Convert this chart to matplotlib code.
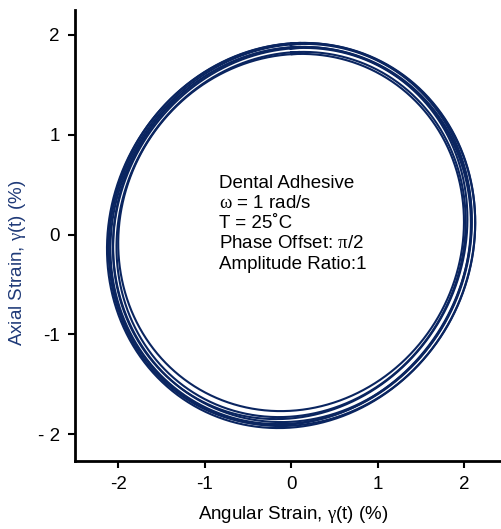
import numpy as np
import matplotlib
matplotlib.use("Agg")
import matplotlib.pyplot as plt

plt.rcParams['font.family'] = ['Liberation Sans', 'DejaVu Sans']
plt.rcParams['mathtext.fontset'] = 'custom'
plt.rcParams['mathtext.rm'] = 'Liberation Serif'
plt.rcParams['mathtext.it'] = 'Liberation Serif'

# per-cycle amplitudes / phase deviation
cycle_amp_x = [2.13, 2.12, 2.10, 2.09, 2.07, 2.05, 2.02, 2.00]
cycle_amp_y = [1.93, 1.92, 1.91, 1.89, 1.88, 1.86, 1.83, 1.79]
cycle_phase_dev = [0.07, 0.06, 0.08, 0.07, 0.06, 0.08, 0.07, 0.06]
cycle_off_x = [0.00, 0.01, -0.01, 0.00, 0.01, -0.01, 0.00, 0.00]
cycle_off_y = [-0.01, 0.00, 0.00, -0.01, 0.00, 0.01, 0.00, 0.02]

x_ticks = [-2, -1, 0, 1, 2]
x_ticklabels = ['-2', '-1', '0', '1', '2']
y_ticks = [-2, -1, 0, 1, 2]
y_ticklabels = ['- 2', '-1', '0', '1', '2']

annotation = ("Dental Adhesive\n$\\omega$ = 1 rad/s\nT = 25˚C\n"
              "Phase Offset: $\\pi$/2\nAmplitude Ratio:1")

line_color = '#0a2560'

fig = plt.figure(figsize=(5.02, 5.29), dpi=100)
ax = fig.add_axes([75/502, 68/529, 427/502, 451/529])

t = np.linspace(0, 2*np.pi + 0.05, 520)
for ax_, ay_, dp, ox, oy in zip(cycle_amp_x, cycle_amp_y, cycle_phase_dev,
                                cycle_off_x, cycle_off_y):
    xs = ox + ax_*np.sin(t)
    ys = oy + ay_*np.sin(t + np.pi/2 - dp)
    ax.plot(xs, ys, color=line_color, lw=1.5, solid_capstyle='round',
            solid_joinstyle='round')

ax.set_xlim(-2.5, 2.44)
ax.set_ylim(-2.27, 2.25)
ax.set_xticks(x_ticks)
ax.set_xticklabels(x_ticklabels)
ax.set_yticks(y_ticks)
ax.set_yticklabels(y_ticklabels)
ax.tick_params(axis='both', direction='out', length=5, width=1.5,
               labelsize=13.5, pad=6, colors='black')
for s in ['top', 'right']:
    ax.spines[s].set_visible(False)
for s in ['left', 'bottom']:
    ax.spines[s].set_linewidth(2)

ax.set_xlabel('Angular Strain, $\\gamma$(t) (%)', fontsize=13.5)
ax.xaxis.set_label_coords(0.51, -0.095)
ax.set_ylabel('Axial Strain, $\\gamma$(t) (%)', fontsize=13.5, color='#1f3a78')
ax.yaxis.set_label_coords(-0.11, 0.44)

ax.text(-0.83, 0.60, annotation, fontsize=13.5, va='top', ha='left',
        linespacing=1.25)

fig.savefig('out.png', dpi=100)
